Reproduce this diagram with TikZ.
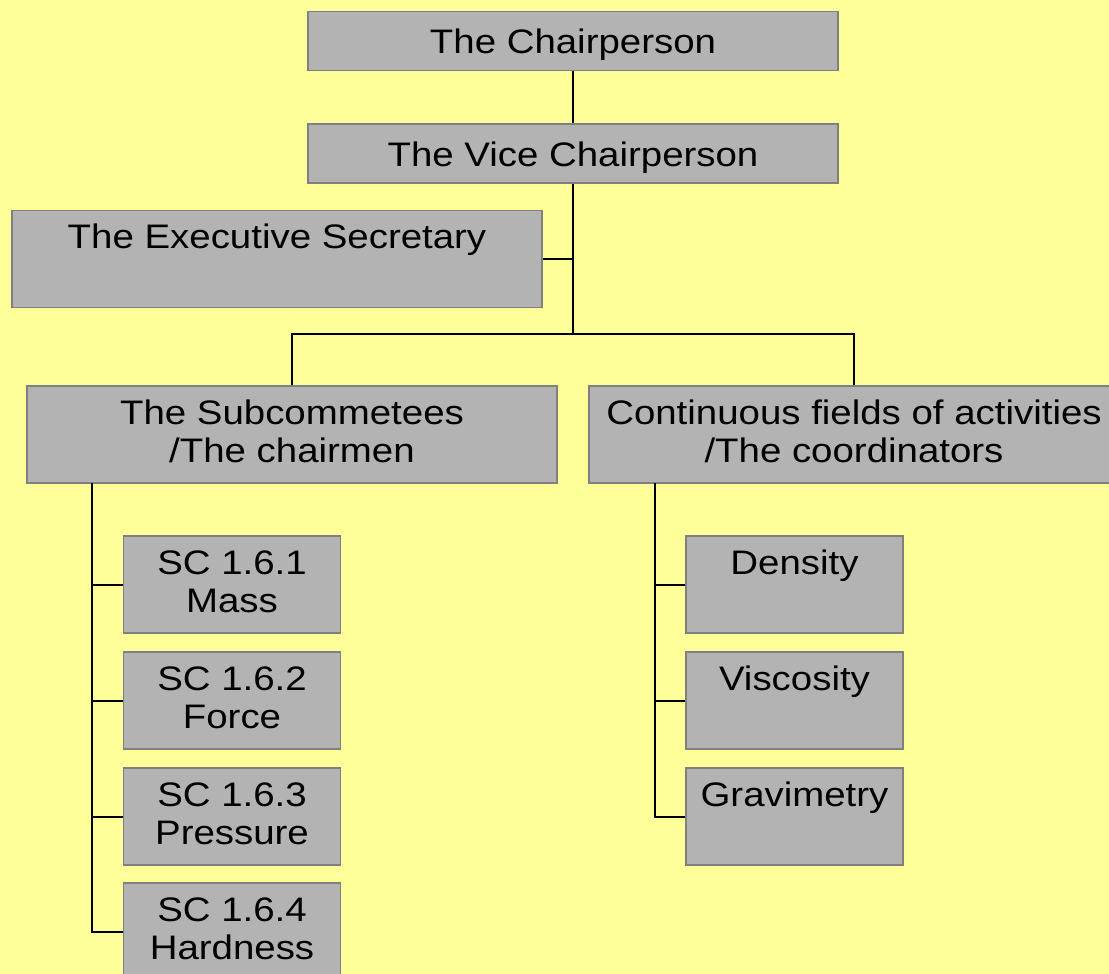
\documentclass[tikz,border=0pt]{standalone}
\usepackage{fontspec}
\newfontfamily\orgfont{Liberation Sans}[FakeStretch=1.13]
\definecolor{bgyellow}{HTML}{FFFF99}
\definecolor{boxgray}{HTML}{B3B3B3}
\definecolor{edgegray}{HTML}{808080}
\tikzset{
  orgbox/.style={draw=edgegray, fill=boxgray, line width=1.5pt, align=center, inner sep=0pt,
    font=\orgfont\fontsize{34}{38}\selectfont},
  widebox/.style={orgbox, minimum width=530pt, minimum height=59pt,
    execute at begin node={\rule{0pt}{33pt}}},
  tallbox/.style={orgbox, minimum width=530pt, minimum height=97pt,
    text height=63pt, text depth=8pt},
  smallbox/.style={tallbox, minimum width=217pt},
  link/.style={line width=2pt, black}
}

\begin{document}
\begin{tikzpicture}[x=1pt, y=-1pt]
  \fill[bgyellow] (0,0) rectangle (1109,974);
  \useasboundingbox (0,0) rectangle (1109,974);

  \node[widebox] (chair) at (573,41) {The Chairperson};
  \node[widebox] (vice) at (573,153.5) {The Vice Chairperson};
  \node[tallbox] (exec) at (277,259) {The Executive Secretary\\\strut};
  \node[tallbox] (sub) at (292,434.5) {The Subcommetees\\/The chairmen};
  \node[tallbox] (cont) at (854,434.5) {Continuous fields of activities\\/The coordinators};

  \node[smallbox] (sc1) at (232,584.5) {SC 1.6.1\\Mass};
  \node[smallbox] (sc2) at (232,700.5) {SC 1.6.2\\Force};
  \node[smallbox] (sc3) at (232,816.5) {SC 1.6.3\\Pressure};
  \node[smallbox] (sc4) at (232,931.5) {SC 1.6.4\\Hardness};

  \node[smallbox] (density) at (794.5,584.5) {Density\\\strut};
  \node[smallbox] (viscosity) at (794.5,700.5) {Viscosity\\\strut};
  \node[smallbox] (gravimetry) at (794.5,816.5) {Gravimetry\\\strut};

  \coordinate (bus) at (573,334);
  \coordinate (lbus) at (92,483);
  \coordinate (rbus) at (655,483);

  \draw[link] (chair) -- (vice);
  \draw[link] (vice) -- (bus);
  \draw[link] (exec.east) -- (exec.east -| bus);
  \draw[link] (sub.north) |- (bus) -| (cont.north);

  \draw[link] (lbus) |- (sc4.west);
  \foreach \n in {sc1,sc2,sc3}
    \draw[link] (\n.west) -- (\n.west -| lbus);
  \draw[link] (rbus) |- (gravimetry.west);
  \foreach \n in {density,viscosity}
    \draw[link] (\n.west) -- (\n.west -| rbus);
\end{tikzpicture}
\end{document}
